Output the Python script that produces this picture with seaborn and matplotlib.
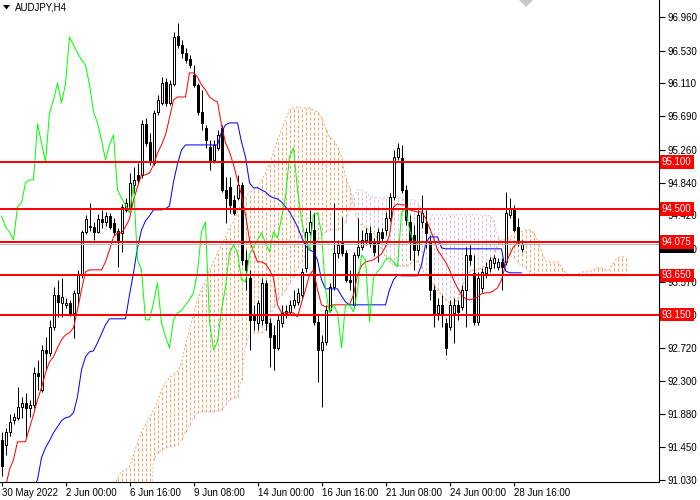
import numpy as np
import matplotlib
matplotlib.use("Agg")
import matplotlib.pyplot as plt
from matplotlib.patches import Polygon
from matplotlib.transforms import blended_transform_factory
import seaborn as sns

symbol = "AUDJPY,H4"

opens = [
    91.546, 91.482, 91.648, 91.802, 91.828, 91.968, 92.020, 91.956, 91.994, 92.404,
    92.186, 92.698, 92.660, 92.992, 93.402, 93.300, 93.274, 93.300, 93.172, 93.428,
    93.658, 94.208, 94.285, 94.272, 94.208, 94.375, 94.336, 94.413, 94.324, 94.221,
    94.196, 94.490, 94.528, 94.810, 94.938, 94.938, 95.591, 95.360, 95.092, 95.744,
    95.860, 96.128, 95.860, 96.103, 96.717, 96.602, 96.500, 96.423, 96.218, 96.090,
    95.744, 95.540, 95.296, 95.130, 95.284, 95.540, 94.746, 94.784, 94.618, 94.644,
    94.810, 93.850, 93.620, 93.133, 93.044, 93.082, 93.556, 93.044, 92.890, 92.724,
    93.044, 93.172, 93.184, 93.274, 93.312, 93.402, 93.748, 94.208, 94.234, 93.056,
    92.698, 92.800, 93.210, 93.504, 93.940, 94.068, 93.940, 93.594, 93.274, 93.914,
    94.016, 94.106, 94.196, 94.068, 94.068, 94.208, 94.234, 94.388, 94.656, 95.168,
    95.156, 94.746, 94.336, 94.170, 93.978, 94.336, 94.324, 94.068, 93.466, 93.172,
    93.274, 93.044, 92.992, 93.172, 93.274, 93.248, 93.466, 93.914, 93.684, 93.056,
    93.492, 93.684, 93.748, 93.812, 93.760, 93.824, 93.824, 94.426, 94.490, 94.272,
    93.990]

highs = [
    91.648, 91.700, 91.879, 91.892, 92.224, 92.096, 92.148, 92.058, 92.480, 92.570,
    92.762, 92.864, 93.082, 93.504, 93.594, 93.620, 93.364, 93.338, 93.466, 93.722,
    94.234, 94.426, 94.580, 94.336, 94.439, 94.490, 94.464, 94.452, 94.388, 94.260,
    94.567, 94.644, 94.964, 95.040, 95.092, 95.642, 95.668, 95.476, 95.770, 95.962,
    96.192, 96.180, 96.154, 96.768, 96.884, 96.666, 96.564, 96.474, 96.346, 96.116,
    96.026, 95.578, 95.386, 95.386, 95.514, 95.578, 94.912, 94.912, 94.682, 94.938,
    94.848, 93.978, 93.722, 93.274, 93.338, 93.620, 93.594, 93.108, 93.018, 93.146,
    93.274, 93.274, 93.338, 93.466, 93.492, 93.748, 94.260, 94.490, 94.452, 93.146,
    92.890, 93.274, 93.556, 94.580, 94.106, 94.400, 93.978, 93.722, 93.952, 94.388,
    94.234, 94.260, 94.285, 94.132, 94.260, 94.260, 94.464, 94.708, 95.258, 95.348,
    95.322, 94.810, 94.426, 94.298, 94.490, 94.682, 94.490, 94.170, 93.530, 93.364,
    93.402, 93.108, 93.338, 93.364, 93.338, 93.530, 94.016, 94.042, 93.914, 93.696,
    93.748, 93.824, 93.888, 93.914, 93.876, 93.876, 94.720, 94.644, 94.554, 94.388,
    94.106]

lows = [
    91.085, 91.354, 91.597, 91.751, 91.802, 91.828, 91.584, 91.840, 91.956, 92.186,
    92.160, 92.442, 92.621, 92.954, 93.120, 93.120, 93.236, 93.133, 92.852, 93.274,
    93.620, 94.183, 94.221, 94.106, 94.196, 94.260, 94.285, 94.247, 94.170, 93.760,
    93.952, 94.464, 94.490, 94.708, 94.836, 94.900, 95.309, 95.066, 95.066, 95.706,
    95.834, 95.821, 95.834, 96.077, 96.564, 96.436, 96.372, 96.308, 96.064, 95.706,
    95.514, 95.284, 95.002, 95.092, 95.258, 94.720, 94.324, 94.452, 94.426, 94.618,
    93.786, 93.466, 92.698, 92.954, 92.954, 93.018, 92.954, 92.480, 92.442, 92.698,
    92.992, 93.108, 93.146, 93.236, 93.274, 93.364, 93.696, 94.170, 93.018, 92.288,
    91.968, 92.762, 93.184, 93.466, 93.876, 93.901, 93.568, 93.466, 93.236, 93.876,
    93.978, 94.042, 94.016, 93.901, 93.824, 94.080, 94.170, 94.349, 94.618, 95.130,
    94.708, 94.298, 93.850, 93.722, 93.914, 94.260, 93.996, 93.338, 92.992, 93.082,
    92.992, 92.634, 92.954, 92.788, 93.082, 93.210, 92.992, 93.786, 93.018, 93.018,
    93.440, 93.620, 93.696, 93.748, 93.722, 93.466, 93.786, 94.388, 94.208, 94.029,
    93.952]

closes = [
    91.213, 91.648, 91.776, 91.840, 91.968, 92.020, 91.956, 91.994, 92.404, 92.365,
    92.698, 92.660, 92.992, 93.402, 93.312, 93.376, 93.300, 93.172, 93.428, 93.658,
    94.208, 94.375, 94.272, 94.208, 94.375, 94.336, 94.413, 94.272, 94.208, 94.106,
    94.528, 94.580, 94.836, 94.874, 94.874, 95.591, 95.348, 95.104, 95.732, 95.898,
    96.116, 95.860, 96.103, 96.704, 96.602, 96.500, 96.410, 96.346, 96.090, 95.744,
    95.604, 95.386, 95.130, 95.322, 95.450, 94.746, 94.644, 94.554, 94.452, 94.810,
    93.850, 93.722, 93.082, 93.082, 93.300, 93.556, 93.044, 92.864, 92.724, 93.082,
    93.172, 93.197, 93.274, 93.338, 93.428, 93.696, 94.208, 94.336, 93.056, 92.698,
    92.800, 93.210, 93.504, 93.940, 94.042, 93.940, 93.594, 93.568, 93.914, 94.016,
    94.106, 94.196, 94.068, 93.952, 94.208, 94.132, 94.388, 94.656, 95.168, 95.284,
    94.746, 94.362, 94.106, 93.978, 94.426, 94.452, 94.196, 93.466, 93.172, 93.274,
    93.172, 92.724, 93.274, 93.274, 93.184, 93.466, 93.914, 93.850, 93.056, 93.620,
    93.696, 93.760, 93.850, 93.876, 93.824, 93.760, 94.452, 94.516, 94.234, 94.080,
    94.055]

tenkan = [
    90.842, 90.944, 91.162, 91.290, 91.520, 91.520, 91.520, 91.700, 91.866, 92.058,
    92.212, 92.404, 92.544, 92.608, 92.724, 92.826, 92.890, 92.916, 92.980, 93.210,
    93.466, 93.696, 93.722, 93.722, 93.722, 93.722, 93.824, 93.978, 94.144, 94.196,
    94.196, 94.272, 94.375, 94.618, 94.784, 94.938, 94.938, 94.964, 95.066, 95.220,
    95.322, 95.450, 95.668, 95.898, 95.936, 95.936, 95.936, 96.244, 96.244, 96.192,
    96.090, 96.026, 95.936, 95.898, 95.872, 95.578, 95.348, 95.232, 95.066, 94.874,
    94.682, 94.426, 94.106, 93.952, 93.824, 93.824, 93.798, 93.722, 93.620, 93.274,
    93.172, 93.172, 93.172, 93.172, 93.120, 93.300, 93.466, 93.658, 93.722, 93.466,
    93.274, 93.248, 93.261, 93.274, 93.274, 93.274, 93.274, 93.274, 93.402, 93.658,
    93.773, 93.824, 93.837, 93.850, 93.888, 93.927, 94.016, 94.170, 94.528, 94.567,
    94.554, 94.554, 94.490, 94.477, 94.464, 94.464, 94.388, 94.260, 94.132, 93.978,
    93.901, 93.824, 93.722, 93.594, 93.492, 93.402, 93.351, 93.338, 93.351, 93.376,
    93.415, 93.428, 93.428, 93.453, 93.492, 93.594, 93.786, 93.914, 94.016, 94.068,
    94.042]

kijun = [
    90.522, 90.586, 90.650, 90.714, 90.778, 90.816, 90.842, 90.880, 90.932, 91.034,
    91.316, 91.444, 91.533, 91.636, 91.712, 91.789, 91.828, 91.840, 91.892, 92.096,
    92.442, 92.608, 92.672, 92.685, 92.788, 92.903, 93.018, 93.095, 93.095, 93.095,
    93.095, 93.095, 93.402, 93.684, 94.004, 94.234, 94.349, 94.413, 94.490, 94.490,
    94.490, 94.503, 94.541, 94.848, 95.079, 95.258, 95.322, 95.322, 95.322, 95.322,
    95.322, 95.322, 95.322, 95.322, 95.322, 95.488, 95.578, 95.604, 95.604, 95.604,
    95.360, 95.168, 94.836, 94.772, 94.772, 94.746, 94.720, 94.669, 94.644, 94.631,
    94.592, 94.528, 94.464, 94.375, 94.272, 94.144, 94.029, 93.978, 93.952, 93.850,
    93.594, 93.479, 93.479, 93.479, 93.479, 93.389, 93.312, 93.274, 93.274, 93.274,
    93.274, 93.274, 93.274, 93.274, 93.274, 93.274, 93.274, 93.466, 93.594, 93.658,
    93.645, 93.645, 93.645, 93.645, 93.645, 93.786, 94.042, 94.144, 94.144, 94.144,
    94.004, 93.991, 93.991, 93.991, 93.991, 93.991, 93.991, 93.991, 93.991, 93.991,
    93.991, 93.991, 93.991, 93.991, 93.991, 93.991, 93.709, 93.684, 93.684, 93.684,
    93.684]

span_a = [90.60] * 28 + [
    90.900, 91.060,
    91.136, 91.162, 91.200, 91.354, 91.508, 91.648, 91.738, 91.828, 91.930, 92.032,
    92.186, 92.276, 92.340, 92.378, 92.416, 92.532, 92.762, 92.954, 93.146, 93.338,
    93.466, 93.568, 93.722, 93.824, 93.940, 94.042, 94.144, 94.260, 94.336, 94.464,
    94.580, 94.656, 94.708, 94.746, 94.784, 94.874, 94.964, 95.066, 95.232, 95.386,
    95.514, 95.642, 95.770, 95.796, 95.808, 95.796, 95.796, 95.796, 95.770, 95.744,
    95.668, 95.540, 95.424, 95.386, 95.296, 95.168, 94.912, 94.772, 94.554, 94.362,
    94.298, 94.260, 94.234, 94.196, 94.132, 93.978, 93.888, 93.824, 93.786, 93.773,
    93.773, 93.773, 93.786, 93.850, 93.824, 93.748, 93.658, 93.594, 93.530, 93.466,
    93.402, 93.338, 93.300, 93.300, 93.338, 93.466, 93.620, 93.696, 93.722, 93.722,
    93.748, 93.773, 93.824, 93.888, 94.042, 94.106, 94.106, 94.132, 94.170, 94.208,
    94.208, 94.234, 94.234, 94.196, 94.106, 93.952, 93.837, 93.824, 93.824, 93.824,
    93.760, 93.684, 93.658, 93.658, 93.658, 93.696, 93.696, 93.696, 93.722, 93.748,
    93.748, 93.722, 93.722, 93.812, 93.876, 93.888, 93.888]

span_b = [90.50] * 38 + [
    91.290, 91.380,
    91.418, 91.444, 91.456, 91.469, 91.482, 91.546, 91.648, 91.738, 91.828, 91.892,
    91.904, 91.904, 91.904, 91.904, 91.917, 91.930, 91.994, 92.058, 92.084, 92.096,
    92.314, 92.762, 92.916, 92.916, 92.916, 92.916, 92.954, 93.056, 93.248, 93.338,
    93.402, 93.466, 93.556, 93.632, 93.748, 93.824, 93.914, 93.978, 94.042, 94.106,
    94.170, 94.208, 94.234, 94.234, 94.234, 94.260, 94.336, 94.490, 94.682, 94.746,
    94.746, 94.720, 94.669, 94.656, 94.644, 94.644, 94.644, 94.644, 94.644, 94.644,
    94.644, 94.618, 94.618, 94.618, 94.592, 94.490, 94.452, 94.426, 94.426, 94.426,
    94.426, 94.426, 94.426, 94.426, 94.426, 94.426, 94.426, 94.426, 94.426, 94.426,
    94.426, 94.426, 94.413, 94.362, 94.170, 94.042, 93.978, 93.914, 93.876, 93.824,
    93.773, 93.748, 93.696, 93.658, 93.645, 93.645, 93.645, 93.645, 93.645, 93.645,
    93.645, 93.645, 93.645, 93.645, 93.645, 93.645, 93.645, 93.645, 93.645, 93.645,
    93.645, 93.645, 93.645, 93.645, 93.645, 93.645, 93.645]

chikou_shift = 26
levels = [95.100, 94.500, 94.075, 93.650, 93.150]
price_ticks = [96.960, 96.530, 96.110, 95.690, 95.260, 94.840, 94.420, 93.990,
               93.570, 93.150, 92.720, 92.300, 91.880, 91.450, 91.030]
date_labels = ["30 May 2022", "2 Jun 00:00", "6 Jun 16:00", "9 Jun 08:00",
               "14 Jun 00:00", "16 Jun 16:00", "21 Jun 08:00", "24 Jun 00:00",
               "28 Jun 16:00"]
bars_per_label = 16

# ---------------------------------------------------------------
sns.set_theme(style="white")
plt.rcParams['font.family'] = ['Liberation Sans', 'DejaVu Sans']

W, H = 700, 500
PX = 72 / 100  # one pixel in points
fig = plt.figure(figsize=(7, 5), dpi=100)
ax = fig.add_axes([0, 18 / H, 659 / W, 482 / H])

o = np.array(opens); h = np.array(highs); l = np.array(lows); c = np.array(closes)
n = len(c)
x = np.arange(n)
bull = c >= o

# Ichimoku cloud (vertical dotted histogram between spans)
a = np.array(span_a); b = np.array(span_b)
xc = np.arange(len(a))
up = a >= b
ax.vlines(xc[up], b[up], a[up], colors='#F4A460', linestyles=(0, (3, 2)),
          linewidth=PX, zorder=1)
ax.vlines(xc[~up], a[~up], b[~up], colors='#D8BFD8', linestyles=(0, (3, 2)),
          linewidth=PX, zorder=1)
sns.lineplot(x=xc, y=a, ax=ax, color='#F4A460', linewidth=PX,
             linestyle=(0, (2, 2)), zorder=1.5)
sns.lineplot(x=xc, y=b, ax=ax, color='#D8BFD8', linewidth=PX,
             linestyle=(0, (2, 2)), zorder=1.5)

# candles
ax.vlines(x, l, h, colors='black', linewidth=PX, zorder=3)
body_h = np.maximum(np.abs(c - o), 0.008)
body_b = np.minimum(o, c)
ax.bar(x[bull], body_h[bull], bottom=body_b[bull], width=0.5, color='white',
       edgecolor='black', linewidth=PX, zorder=4)
ax.bar(x[~bull], body_h[~bull], bottom=body_b[~bull], width=0.5, color='black',
       edgecolor='black', linewidth=PX, zorder=4)

# Ichimoku lines
sns.lineplot(x=x, y=tenkan, ax=ax, color='red', linewidth=PX, zorder=5)
sns.lineplot(x=x, y=kijun, ax=ax, color='blue', linewidth=PX, zorder=5)
sns.lineplot(x=x[:n - chikou_shift], y=c[chikou_shift:], ax=ax, color='#00FF00',
             linewidth=PX, zorder=5)

# bid line and horizontal levels
ax.axhline(c[-1], color='#B8B8B8', linewidth=PX, zorder=5.5)
for lv in levels:
    ax.axhline(lv, color='red', linewidth=2 * PX, zorder=6)

# bar centres land on pixel centres
ax.set_xlim(-0.375, 164.375)
ax.set_ylim(91.005, 97.178)
ax.set_xlabel('')
ax.set_ylabel('')
ax.grid(False)

ax.yaxis.tick_right()
ax.set_yticks(price_ticks)
ax.set_yticklabels([f"{v:.3f}" for v in price_ticks])
ax.set_xticks(np.arange(len(date_labels)) * bars_per_label)
ax.set_xticklabels(date_labels)
for t in ax.get_xticklabels():
    t.set_ha('left')
ax.tick_params(axis='y', direction='out', length=4, width=0.8, pad=2,
               labelsize=7, colors='black', right=True, left=False)
ax.tick_params(axis='x', direction='out', length=3, width=0.8, pad=1.5,
               labelsize=7, colors='black', bottom=True)
for s in ['left', 'top']:
    ax.spines[s].set_visible(False)
for s in ['right', 'bottom']:
    ax.spines[s].set_visible(True)
    ax.spines[s].set_color('black')
    ax.spines[s].set_linewidth(0.8)

trans = blended_transform_factory(ax.transAxes, ax.transData)
ax.text(1.0045, c[-1] - 0.03, f"{c[-1]:.3f}", transform=trans, ha='left',
        va='center', fontsize=7, color='white',
        bbox=dict(boxstyle='square,pad=0.2', fc='black', ec='black', lw=0),
        zorder=9, clip_on=False)
for lv in levels:
    ax.text(1.0045, lv, f"{lv:.3f}", transform=trans, ha='left', va='center',
            fontsize=7, color='white',
            bbox=dict(boxstyle='square,pad=0.2', fc='red', ec='red', lw=0),
            zorder=10, clip_on=False)

# title with small triangle
fig.text(15 / W, 1 - 8 / H, symbol, fontsize=7, color='black', ha='left',
         va='center')
fig.patches.append(Polygon([[3 / W, 1 - 5 / H], [10 / W, 1 - 5 / H],
                            [6.5 / W, 1 - 9.5 / H]], closed=True,
                           transform=fig.transFigure, fc='black', ec='none'))
fig.patches.append(Polygon([[519 / W, 1.0], [526 / W, 1 - 7 / H], [533 / W, 1.0]],
                           closed=True, transform=fig.transFigure,
                           fc='#C8C8C8', ec='none'))

fig.savefig('out.png', dpi=100)
